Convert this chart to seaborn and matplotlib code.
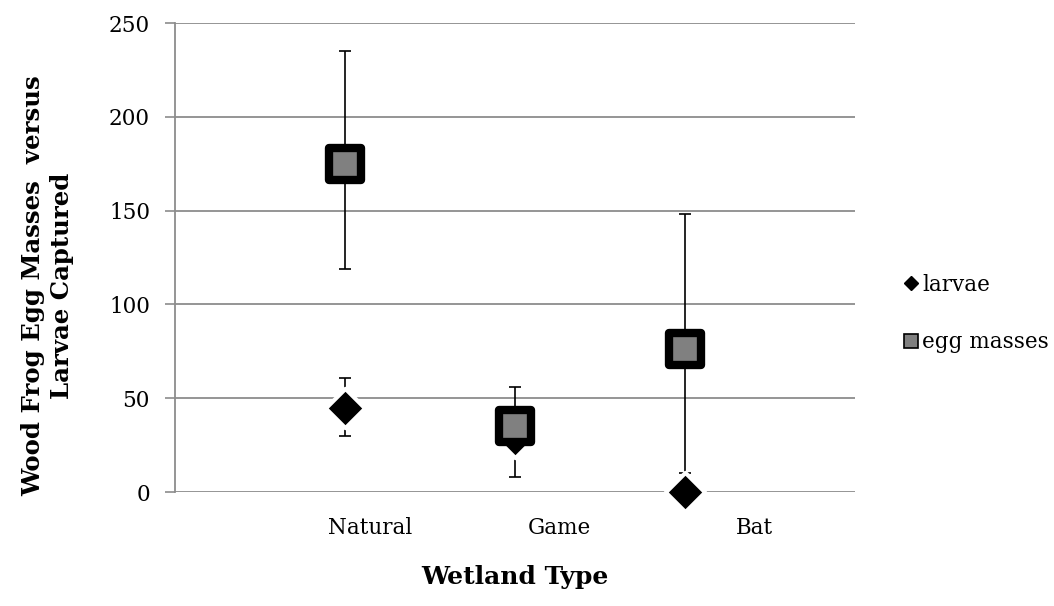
import matplotlib
matplotlib.use("Agg")
import matplotlib.pyplot as plt
from matplotlib.lines import Line2D
import seaborn as sns
import pandas as pd

categories = ["Natural", "Game", "Bat"]
cat_pos = [1, 2, 3]
label_pos = [1.15, 2.26, 3.41]

larvae = [45, 29, 0]
larvae_err_low = [15, 21, 0]
larvae_err_high = [16, 27, 0]

eggs = [175, 35, 76]
eggs_err_low = [56, 0, 66]
eggs_err_high = [60, 0, 72]

yticks = [0, 50, 100, 150, 200, 250]

sns.set_theme(style="white")
plt.rcParams['font.family'] = ['DejaVu Serif']
plt.rcParams['text.color'] = 'black'
plt.rcParams['axes.labelcolor'] = 'black'
plt.rcParams['xtick.color'] = 'black'
plt.rcParams['ytick.color'] = 'black'

fig = plt.figure(figsize=(10.54, 6.06), dpi=100)
ax = fig.add_axes([0.166, 0.188, 0.645, 0.774])

df = pd.DataFrame({"x": cat_pos * 2,
                   "y": larvae + eggs,
                   "series": ["larvae"] * 3 + ["egg masses"] * 3})

ax.errorbar(cat_pos, larvae, yerr=[larvae_err_low, larvae_err_high], fmt="none",
            ecolor="black", elinewidth=1.2, capsize=4.3, capthick=1.2, zorder=2)
ax.errorbar(cat_pos, eggs, yerr=[eggs_err_low, eggs_err_high], fmt="none",
            ecolor="black", elinewidth=1.2, capsize=4.3, capthick=1.2, zorder=2)

sns.scatterplot(data=df[df.series == "larvae"], x="x", y="y", marker="D", s=400,
                color="black", edgecolor="white", linewidth=3, ax=ax,
                legend=False, zorder=3, clip_on=False)
sns.scatterplot(data=df[df.series == "egg masses"], x="x", y="y", marker="s", s=520,
                color="#808080", edgecolor="black", linewidth=6, ax=ax,
                legend=False, zorder=4, clip_on=False)
ax.collections[-1].set_joinstyle("round")

ax.set_xlim(0, 4)
ax.set_ylim(0, 250)
ax.set_yticks(yticks)
ax.set_yticklabels([str(v) for v in yticks], fontsize=15.5)
ax.set_xticks(label_pos)
ax.set_xticklabels(categories, fontsize=15.5)
ax.tick_params(axis="x", length=0, pad=18)
ax.tick_params(axis="y", length=7, width=1.2, color="#8c8c8c", labelcolor="black",
               direction="out", pad=11, left=True)
ax.grid(axis="y", color="#8c8c8c", linewidth=1.3)
ax.grid(axis="x", visible=False)
ax.set_axisbelow(True)
for s in ["top", "right", "bottom"]:
    ax.spines[s].set_visible(False)
ax.spines["left"].set_color("#8c8c8c")
ax.spines["left"].set_linewidth(1.3)

ax.set_xlabel("Wetland Type", fontsize=18, fontweight="bold", labelpad=19)
ax.set_ylabel("Wood Frog Egg Masses  versus\nLarvae Captured", fontsize=17.6,
              fontweight="bold", linespacing=1.25)
ax.yaxis.set_label_coords(-0.149, 0.44)

handles = [
    Line2D([], [], marker="D", linestyle="none", markersize=7, color="black",
           markeredgecolor="black", label="larvae"),
    Line2D([], [], marker="s", linestyle="none", markersize=10, color="#808080",
           markeredgecolor="black", markeredgewidth=1.2, label="egg masses"),
]
fig.legend(handles=handles, loc="center left", bbox_to_anchor=(0.840, 0.483),
           frameon=False, fontsize=15.5, handlelength=0.6, handletextpad=0.2,
           labelspacing=1.65)

fig.savefig("out.png", dpi=100)
